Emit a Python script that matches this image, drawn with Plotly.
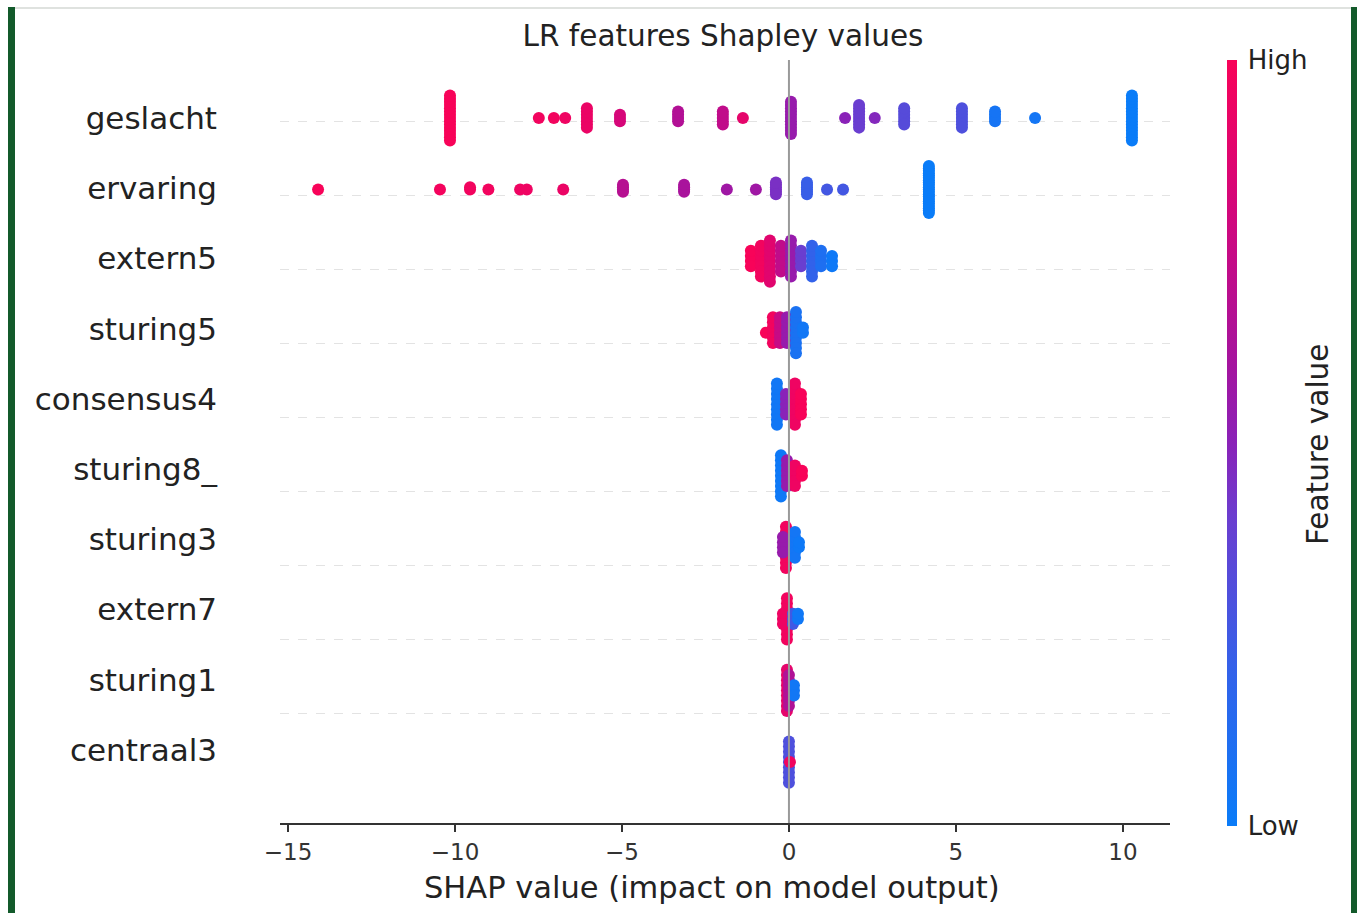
import plotly.graph_objects as go
import numpy as np

# ---------------- data ----------------
features = ["geslacht", "ervaring", "extern5", "sturing5", "consensus4",
            "sturing8_", "sturing3", "extern7", "sturing1", "centraal3"]

# each cluster: SHAP value, normalised feature value (0=low, 1=high), number of samples
geslacht_shap  = [-10.15, -7.49, -7.04, -6.70, -6.05, -5.06, -3.32, -1.98, -1.38, 0.06, 1.68, 2.10, 2.57, 3.45, 5.18, 6.17, 7.37, 10.27]
geslacht_feat  = [1.00, 0.97, 0.97, 0.95, 0.93, 0.82, 0.66, 0.72, 0.90, 0.55, 0.50, 0.40, 0.48, 0.33, 0.30, 0.06, 0.05, 0.00]
geslacht_count = [15, 1, 1, 1, 7, 3, 4, 5, 1, 11, 1, 8, 1, 6, 7, 4, 1, 15]

ervaring_shap  = [-14.10, -10.45, -9.55, -9.00, -8.05, -7.85, -6.76, -4.97, -3.14, -1.86, -0.99, -0.39, 0.54, 1.14, 1.62, 4.19]
ervaring_feat  = [1.00, 0.98, 0.97, 0.97, 0.95, 0.95, 0.93, 0.68, 0.62, 0.58, 0.58, 0.45, 0.22, 0.26, 0.26, 0.00]
ervaring_count = [1, 1, 2, 1, 1, 1, 1, 4, 4, 1, 1, 6, 6, 1, 1, 21]

extern5_shap  = [-1.14, -0.84, -0.57, -0.24, 0.06, 0.36, 0.69, 0.96, 1.29]
extern5_feat  = [1.00, 0.97, 0.88, 0.72, 0.55, 0.40, 0.20, 0.10, 0.02]
extern5_count = [4, 7, 9, 6, 8, 4, 7, 4, 3]

sturing5_shap  = [-0.69, -0.48, -0.27, -0.06, 0.21, 0.42]
sturing5_feat  = [1.00, 0.97, 0.75, 0.55, 0.08, 0.04]
sturing5_count = [1, 6, 6, 6, 9, 2]

consensus4_shap  = [-0.36, -0.09, 0.18, 0.36]
consensus4_feat  = [0.04, 0.50, 0.95, 1.00]
consensus4_count = [9, 5, 9, 5]

sturing8_shap  = [-0.24, -0.06, 0.18, 0.39]
sturing8_feat  = [0.02, 0.55, 0.95, 1.00]
sturing8_count = [9, 6, 5, 2]

sturing3_shap  = [-0.09, -0.18, 0.18, 0.30]
sturing3_feat  = [0.97, 0.55, 0.05, 0.02]
sturing3_count = [9, 4, 6, 2]

extern7_shap  = [-0.06, -0.18, 0.12, 0.27]
extern7_feat  = [0.97, 0.95, 0.25, 0.03]
extern7_count = [9, 3, 3, 2]

sturing1_shap  = [-0.06, 0.00, 0.15]
sturing1_feat  = [0.90, 0.65, 0.04]
sturing1_count = [9, 7, 3]

centraal3_shap  = [0.00, 0.03]
centraal3_feat  = [0.30, 0.97]
centraal3_count = [9, 1]

x_ticks = [-15, -10, -5, 0, 5, 10]
x_tick_text = ["\u221215", "\u221210", "\u22125", "0", "5", "10"]

rows = [
    (geslacht_shap, geslacht_feat, geslacht_count),
    (ervaring_shap, ervaring_feat, ervaring_count),
    (extern5_shap, extern5_feat, extern5_count),
    (sturing5_shap, sturing5_feat, sturing5_count),
    (consensus4_shap, consensus4_feat, consensus4_count),
    (sturing8_shap, sturing8_feat, sturing8_count),
    (sturing3_shap, sturing3_feat, sturing3_count),
    (extern7_shap, extern7_feat, extern7_count),
    (sturing1_shap, sturing1_feat, sturing1_count),
    (centraal3_shap, centraal3_feat, centraal3_count),
]

# ---------------- beeswarm layout (shap-style layering) ----------------
ROW_HEIGHT = 0.4
xs, ys, cs = [], [], []
n_rows = len(features)
for i, (sv, fv, cnt) in enumerate(rows):
    pos = n_rows - 1 - i
    layers = []
    for s, f, n in zip(sv, fv, cnt):
        for layer in range(n):
            layers.append((s, f, np.ceil(layer / 2) * ((layer % 2) * 2 - 1)))
    offs = np.array([l[2] for l in layers])
    scale = 0.9 * (ROW_HEIGHT / np.max(offs + 1))
    for (s, f, o) in layers:
        xs.append(s)
        ys.append(pos + o * scale)
        cs.append(f)

colorscale = [
    [0.0, "#0a7cf8"], [0.2, "#3262ea"], [0.4, "#6a3ed0"], [0.5, "#8a22b8"],
    [0.6, "#a4149f"], [0.8, "#d2077c"], [1.0, "#f80359"],
]

fig = go.Figure()
fig.add_trace(go.Scatter(
    x=xs, y=ys, mode="markers",
    marker=dict(size=12, color=cs, coloraxis="coloraxis", line=dict(width=0)),
    showlegend=False, hoverinfo="x",
))
# invisible helpers so the label / grid axes are drawn
fig.add_trace(go.Scatter(x=[0] * n_rows, y=list(range(n_rows)), yaxis="y2", mode="markers",
                         marker=dict(opacity=0), showlegend=False, hoverinfo="skip"))
fig.add_trace(go.Scatter(x=[0] * n_rows, y=list(range(n_rows)), yaxis="y3", mode="markers",
                         marker=dict(opacity=0), showlegend=False, hoverinfo="skip"))

FONT = "DejaVu Sans"
W, H = 1357, 913
L, R, T, B = 280, 187, 60, 90
pw, ph = W - L - R, H - T - B

def px_x(p):
    return (p - L) / pw

def px_y(p):
    return (H - B - p) / ph

fig.update_layout(
    width=W, height=H,
    margin=dict(l=L, r=R, t=T, b=B, autoexpand=False),
    paper_bgcolor="white", plot_bgcolor="white",
    font=dict(family=FONT, color="#333333"),
    title=dict(text="LR features Shapley values", x=px_x(723), xref="paper", xanchor="center",
               y=1 - 36 / H, yref="container", yanchor="middle",
               font=dict(size=29.5, color="#222222", family=FONT)),
    xaxis=dict(range=[-15.24, 11.41], tickvals=x_ticks, ticktext=x_tick_text,
               showline=True, linecolor="#333333", linewidth=2, ticks="outside",
               ticklen=7, tickwidth=1.5, tickcolor="#333333", showgrid=False, zeroline=False,
               tickfont=dict(size=23, color="#333333")),
    yaxis=dict(range=[-0.852, 9.81], showticklabels=False, showgrid=False, zeroline=False,
               showline=False, ticks=""),
    yaxis2=dict(range=[-1.040, 9.826], overlaying="y", side="left",
                tickvals=list(range(n_rows)), ticktext=features[::-1],
                tickfont=dict(size=31, color="#222222"), ticks="", ticklabelstandoff=62,
                showgrid=False, zeroline=False, showline=False),
    yaxis3=dict(range=[-0.471, 9.823], overlaying="y", side="left",
                tickvals=list(range(1, n_rows)), showticklabels=False, ticks="",
                showgrid=True, gridcolor="#e3e3e3", gridwidth=1, griddash="dash",
                zeroline=False, showline=False),
    coloraxis=dict(
        colorscale=colorscale, cmin=0, cmax=1,
        colorbar=dict(
            x=px_x(1227), xanchor="left", xpad=0, thickness=10,
            y=1, yanchor="top", ypad=0, len=766, lenmode="pixels",
            tickvals=[0, 1], ticktext=["Low", "High"], ticks="outside", ticklen=6,
            tickcolor="rgba(0,0,0,0)", tickfont=dict(size=26, color="#222222"),
            outlinewidth=0,
        ),
    ),
    annotations=[
        dict(text="Feature value", xref="paper", yref="paper", x=px_x(1318), y=px_y(445),
             xanchor="center", yanchor="middle", textangle=-90, showarrow=False,
             font=dict(size=29.5, color="#222222", family=FONT)),
        dict(text="SHAP value (impact on model output)", xref="paper", yref="paper",
             x=px_x(712), y=px_y(887), xanchor="center", yanchor="middle", showarrow=False,
             font=dict(size=30.5, color="#222222", family=FONT)),
    ],
    shapes=[
        dict(type="line", xref="x", yref="paper", x0=0, x1=0, y0=0, y1=1,
             line=dict(color="#999999", width=2), layer="above"),
        dict(type="rect", xref="paper", yref="paper", x0=px_x(8), x1=px_x(15),
             y0=px_y(915), y1=px_y(7), line=dict(width=0), fillcolor="#135a2b"),
        dict(type="rect", xref="paper", yref="paper", x0=px_x(1351), x1=px_x(1360),
             y0=px_y(915), y1=px_y(7), line=dict(width=0), fillcolor="#135a2b"),
        dict(type="line", xref="paper", yref="paper", x0=px_x(15), x1=px_x(1351),
             y0=px_y(8), y1=px_y(8), line=dict(color="#d5d8d5", width=1.5)),
    ],
)

fig.write_html("out.html")
